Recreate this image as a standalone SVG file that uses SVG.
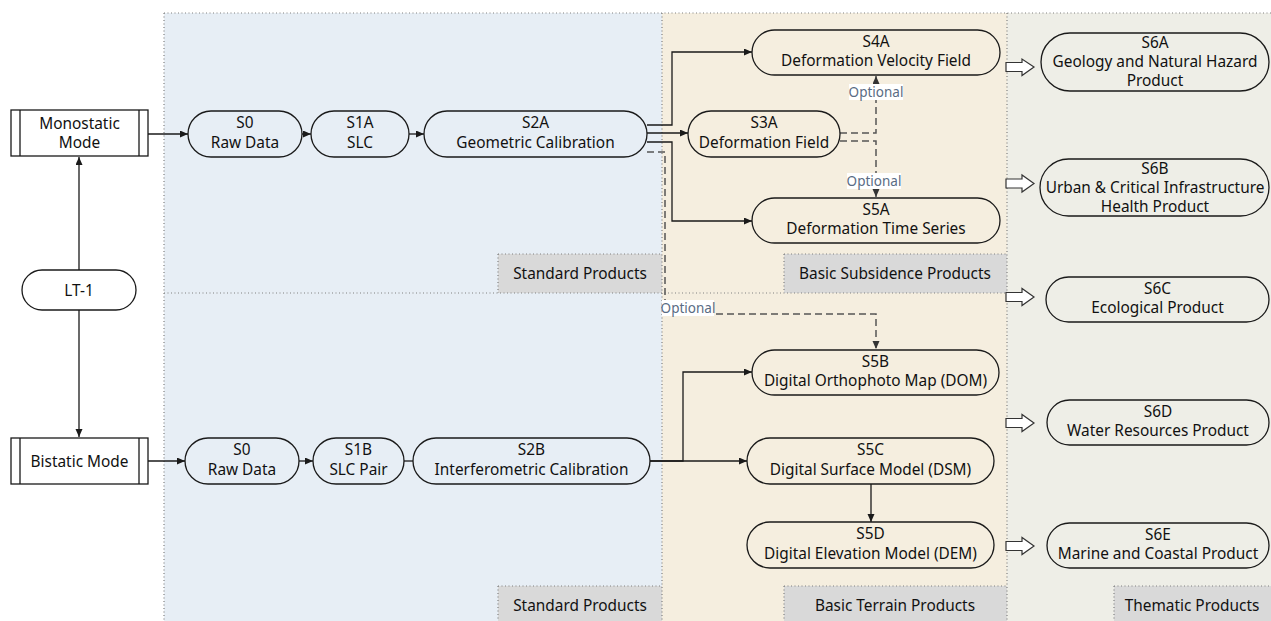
<svg xmlns="http://www.w3.org/2000/svg" width="1271" height="621" viewBox="0 0 1271 621">
<defs>
<style>
text{font-family:"Noto Sans","Open Sans","DejaVu Sans",sans-serif;font-size:15.4px;fill:#111;text-anchor:middle}
.node{fill:none;stroke:#1a1a1a;stroke-width:1.3}
.proc{fill:#fff;stroke:#1a1a1a;stroke-width:1.3}
.border{fill:none;stroke:#808080;stroke-width:1.2;stroke-dasharray:1 2.5}
.lab{fill:#d9d9d9;stroke:none}
.conn{fill:none;stroke:#1a1a1a;stroke-width:1.3}
.dash{fill:none;stroke:#555;stroke-width:1.5;stroke-dasharray:7 4}
.opt{font-size:13.5px;fill:#5a6c84}
.blk{fill:#fff;stroke:#333;stroke-width:1.2}
</style>
<marker id="arr" markerUnits="userSpaceOnUse" markerWidth="9" markerHeight="8" refX="8" refY="3.5" orient="auto"><path d="M0,0 L8,3.5 L0,7 z" fill="#1a1a1a"/></marker>
<marker id="arrd" markerUnits="userSpaceOnUse" markerWidth="9" markerHeight="8" refX="8" refY="3.5" orient="auto"><path d="M0,0 L8,3.5 L0,7 z" fill="#333"/></marker>
</defs>

<g id="panels">
<rect x="164" y="13" width="498" height="608" fill="#e7eef5"/>
<rect x="662" y="13" width="345" height="608" fill="#f5eedf"/>
<rect x="1007" y="13" width="264" height="608" fill="#eeeee7"/>
<rect class="lab" x="498" y="254" width="164" height="39"/>
<rect class="lab" x="784" y="254" width="223" height="39"/>
<rect class="lab" x="498" y="586" width="164" height="35"/>
<rect class="lab" x="784" y="586" width="223" height="35"/>
<rect class="lab" x="1114" y="586" width="157" height="35"/>
<path class="border" d="M164,13 H1271 M164,13 V621 M662,13 V621 M1007,13 V621 M164,293 H1007 M498,254 H662 M498,254 V293 M784,254 H1007 M784,254 V293 M498,586 H662 M498,586 V621 M784,586 H1007 M784,586 V621 M1114,586 H1271 M1114,586 V621"/>
<text x="580" y="279">Standard Products</text>
<text x="895" y="279">Basic Subsidence Products</text>
<text x="580" y="611">Standard Products</text>
<text x="895" y="611">Basic Terrain Products</text>
<text x="1192" y="611">Thematic Products</text>
</g>

<g id="connectors">
<path class="conn" d="M79,270 V157" marker-end="url(#arr)"/>
<path class="conn" d="M79,310 V437" marker-end="url(#arr)"/>
<path class="conn" d="M148,134 H188" marker-end="url(#arr)"/>
<path class="conn" d="M302,134 H311" marker-end="url(#arr)"/>
<path class="conn" d="M409,134 H424" marker-end="url(#arr)"/>
<path class="conn" d="M647,125 H672 V52 H752" marker-end="url(#arr)"/>
<path class="conn" d="M647,133 H688" marker-end="url(#arr)"/>
<path class="conn" d="M647,142 H672 V221 H752" marker-end="url(#arr)"/>
<path class="dash" d="M647,152 H665 V314 H876 V349" marker-end="url(#arrd)"/>
<path class="dash" d="M840,133 H876 V76" marker-end="url(#arrd)"/>
<path class="dash" d="M840,141 H876 V197" marker-end="url(#arrd)"/>
<path class="conn" d="M148,461 H185" marker-end="url(#arr)"/>
<path class="conn" d="M299,461 H313" marker-end="url(#arr)"/>
<path class="conn" d="M404,461 H413"/>
<path class="conn" d="M650,461 H683 V372 H752" marker-end="url(#arr)"/>
<path class="conn" d="M650,461 H747" marker-end="url(#arr)"/>
<path class="conn" d="M871,484 V522" marker-end="url(#arr)"/>
<rect x="849" y="84" width="54" height="16" fill="#fff"/>
<text class="opt" x="876" y="96.5">Optional</text>
<rect x="847" y="173" width="54" height="16" fill="#fff"/>
<text class="opt" x="874" y="185.5">Optional</text>
<rect x="662" y="300" width="52" height="16" fill="#fff"/>
<text class="opt" x="688" y="312.5">Optional</text>
<path class="blk" d="M1006,62.5 H1022 V59 L1034,67 L1022,75.5 V71.5 H1006 Z"/>
<path class="blk" d="M1006,179 H1022 V175 L1034,183.5 L1022,192 V188 H1006 Z"/>
<path class="blk" d="M1006,292.5 H1022 V288.5 L1034,297 L1022,305.5 V301.5 H1006 Z"/>
<path class="blk" d="M1006,418.5 H1022 V414.5 L1034,423 L1022,431.5 V427.5 H1006 Z"/>
<path class="blk" d="M1006,541.5 H1022 V537.5 L1034,546 L1022,554.5 V550.5 H1006 Z"/>
</g>

<g id="monostatic">
<rect class="proc" x="11" y="110" width="137" height="46"/>
<path class="node" d="M20,110 V156 M139,110 V156"/>
<text x="79.5" y="129">Monostatic</text>
<text x="79.5" y="148">Mode</text>
</g>
<g id="lt1">
<rect class="proc" x="22" y="270" width="114" height="40" rx="20"/>
<text x="79" y="295.5">LT-1</text>
</g>
<g id="bistatic">
<rect class="proc" x="11" y="438" width="137" height="46"/>
<path class="node" d="M20,438 V484 M139,438 V484"/>
<text x="79.5" y="466.5">Bistatic Mode</text>
</g>

<g id="s0a">
<rect class="node" x="188" y="111" width="114" height="46" rx="23"/>
<text x="245" y="128">S0</text><text x="245" y="147.5">Raw Data</text>
</g>
<g id="s1a">
<rect class="node" x="311" y="111" width="98" height="46" rx="23"/>
<text x="360" y="128">S1A</text><text x="360" y="147.5">SLC</text>
</g>
<g id="s2a">
<rect class="node" x="424" y="111" width="223" height="46" rx="23"/>
<text x="535.5" y="128">S2A</text><text x="535.5" y="147.5">Geometric Calibration</text>
</g>
<g id="s3a">
<rect class="node" x="688" y="111" width="152" height="46" rx="23"/>
<text x="764" y="128">S3A</text><text x="764" y="147.5">Deformation Field</text>
</g>
<g id="s4a">
<rect class="node" x="752" y="30" width="248" height="45" rx="22.5"/>
<text x="876" y="47">S4A</text><text x="876" y="66">Deformation Velocity Field</text>
</g>
<g id="s5a">
<rect class="node" x="752" y="198" width="248" height="45" rx="22.5"/>
<text x="876" y="215">S5A</text><text x="876" y="234">Deformation Time Series</text>
</g>

<g id="s0b">
<rect class="node" x="185" y="438" width="114" height="46" rx="23"/>
<text x="242" y="455">S0</text><text x="242" y="474.5">Raw Data</text>
</g>
<g id="s1b">
<rect class="node" x="313" y="438" width="91" height="46" rx="23"/>
<text x="358.5" y="455">S1B</text><text x="358.5" y="474.5">SLC Pair</text>
</g>
<g id="s2b">
<rect class="node" x="413" y="438" width="237" height="46" rx="23"/>
<text x="531.5" y="455">S2B</text><text x="531.5" y="474.5">Interferometric Calibration</text>
</g>
<g id="s5b">
<rect class="node" x="752" y="350" width="247" height="45" rx="22.5"/>
<text x="875.5" y="367">S5B</text><text x="875.5" y="386">Digital Orthophoto Map (DOM)</text>
</g>
<g id="s5c">
<rect class="node" x="747" y="438" width="247" height="46" rx="23"/>
<text x="870.5" y="455">S5C</text><text x="870.5" y="474.5">Digital Surface Model (DSM)</text>
</g>
<g id="s5d">
<rect class="node" x="747" y="522" width="247" height="46" rx="23"/>
<text x="870.5" y="539">S5D</text><text x="870.5" y="558.5">Digital Elevation Model (DEM)</text>
</g>

<g id="s6a">
<rect class="node" x="1041" y="33" width="228" height="58" rx="29"/>
<text x="1155" y="47.5">S6A</text><text x="1155" y="66.5">Geology and Natural Hazard</text><text x="1155" y="85.5">Product</text>
</g>
<g id="s6b">
<rect class="node" x="1040" y="159" width="229" height="57" rx="28.5"/>
<text x="1155" y="173.5">S6B</text><text x="1155" y="192.5">Urban &amp; Critical Infrastructure</text><text x="1155" y="211.5">Health Product</text>
</g>
<g id="s6c">
<rect class="node" x="1046" y="277" width="223" height="45" rx="22.5"/>
<text x="1157.5" y="294">S6C</text><text x="1157.5" y="313">Ecological Product</text>
</g>
<g id="s6d">
<rect class="node" x="1047" y="400" width="222" height="45" rx="22.5"/>
<text x="1158" y="417">S6D</text><text x="1158" y="436">Water Resources Product</text>
</g>
<g id="s6e">
<rect class="node" x="1047" y="523" width="222" height="45" rx="22.5"/>
<text x="1158" y="540">S6E</text><text x="1158" y="559">Marine and Coastal Product</text>
</g>
</svg>
